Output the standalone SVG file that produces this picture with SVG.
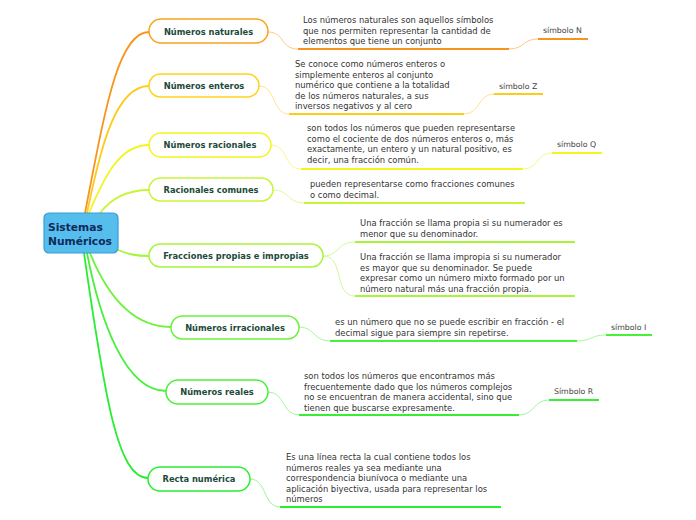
<svg xmlns="http://www.w3.org/2000/svg" width="696" height="520" viewBox="0 0 696 520">
<style>
.pill{fill:#ffffff;stroke-width:1.5}
.lbl{font-family:"DejaVu Sans",Verdana,sans-serif;font-weight:bold;font-size:8.3px;fill:#1c4a3a;text-anchor:middle}
.desc{font-family:"DejaVu Sans",Verdana,sans-serif;font-size:8.4px;fill:#333333}
.sym{font-family:"DejaVu Sans",Verdana,sans-serif;font-size:7.8px;fill:#444444}
.br{fill:none;stroke-width:1.8;stroke-linecap:round}
.cn{fill:none;stroke-width:1}
.ul{fill:none;stroke-width:2}
</style>
<rect width="696" height="520" fill="#ffffff"/>
<g id="connectors">
  <path class="br" stroke="#F7941D" d="M85 213 C105 110,118 32,149 32"/>
  <path class="br" stroke="#FDCB1C" d="M87 213 C100 150,115 86,149 86"/>
  <path class="br" stroke="#F2F51E" d="M89 213 C105 175,120 145,149 145"/>
  <path class="br" stroke="#C8F53A" d="M100 213 C110 200,125 190,149 190"/>
  <path class="br" stroke="#A6F53A" d="M118 250 C128 254,135 256,149 256"/>
  <path class="br" stroke="#6CF23A" d="M90 253 C105 290,130 327,171 327"/>
  <path class="br" stroke="#48F03A" d="M87 253 C100 320,125 391,166 391"/>
  <path class="br" stroke="#28EE30" d="M84 253 C105 400,118 478,148 478"/>
  <!-- node to description -->
  <path class="cn" stroke="#FBCB85" d="M268 32 C285 32,280 49,298 49"/>
  <path class="ul" stroke="#F7941D" d="M298 49 H509"/>
  <path class="cn" stroke="#FBCB85" d="M509 49 C525 49,522 39,538 39"/>
  <path class="ul" stroke="#F7941D" d="M538 39 H588"/>

  <path class="cn" stroke="#FEE48A" d="M259 86 C276 86,272 114,289 114"/>
  <path class="ul" stroke="#FDCB1C" d="M289 114 H464"/>
  <path class="cn" stroke="#FEE48A" d="M464 114 C480 114,478 94,494 94"/>
  <path class="ul" stroke="#FDCB1C" d="M494 94 H543"/>

  <path class="cn" stroke="#F7F98A" d="M271 145 C288 145,284 169,301 169"/>
  <path class="ul" stroke="#F2F51E" d="M301 169 H523"/>
  <path class="cn" stroke="#F7F98A" d="M523 169 C539 169,536 153,552 153"/>
  <path class="ul" stroke="#F2F51E" d="M552 153 H602"/>

  <path class="cn" stroke="#DFF99A" d="M273 190 C290 190,287 203,304 203"/>
  <path class="ul" stroke="#C8F53A" d="M304 203 H525"/>

  <path class="cn" stroke="#CFF99A" d="M323 256 C340 256,336 242,355 242"/>
  <path class="ul" stroke="#A6F53A" d="M355 242 H575"/>
  <path class="cn" stroke="#CFF99A" d="M323 256 C345 256,333 296,355 296"/>
  <path class="ul" stroke="#A6F53A" d="M355 296 H575"/>

  <path class="cn" stroke="#A8F7A0" d="M299 327 C315 327,313 341,330 341"/>
  <path class="ul" stroke="#48F03A" d="M330 341 H577"/>
  <path class="cn" stroke="#A8F7A0" d="M577 341 C592 341,590 335,606 335"/>
  <path class="ul" stroke="#48F03A" d="M606 335 H652"/>

  <path class="cn" stroke="#A0F79A" d="M268 392 C285 392,282 415,299 415"/>
  <path class="ul" stroke="#38EE35" d="M299 415 H519"/>
  <path class="cn" stroke="#A0F79A" d="M519 415 C535 415,533 400,549 400"/>
  <path class="ul" stroke="#38EE35" d="M549 400 H599"/>

  <path class="cn" stroke="#98F59A" d="M250 479 C267 479,263 507,280 507"/>
  <path class="ul" stroke="#28EE30" d="M280 507 H501"/>
</g>
<g id="central">
  <rect x="44" y="213" width="74" height="40" rx="5" fill="#56BEEC" stroke="#3A9BD5" stroke-width="1.2"/>
  <text x="48" y="231" font-family="'DejaVu Sans',Verdana,sans-serif" font-weight="bold" font-size="10.7" fill="#102a5c">Sistemas</text>
  <text x="48" y="244.5" font-family="'DejaVu Sans',Verdana,sans-serif" font-weight="bold" font-size="10.7" fill="#102a5c">Numéricos</text>
</g>
<g id="n-naturales">
  <rect class="pill" x="149" y="19" width="119" height="24" rx="12" stroke="#F9A31B"/>
  <text class="lbl" x="208.5" y="34.5">Números naturales</text>
  <text class="desc" x="303" y="23">Los números naturales son aquellos símbolos</text>
  <text class="desc" x="303" y="33.5">que nos permiten representar la cantidad de</text>
  <text class="desc" x="303" y="44">elementos que tiene un conjunto</text>
  <text class="sym" x="543" y="33">símbolo N</text>
</g>
<g id="n-enteros">
  <rect class="pill" x="149" y="74" width="110" height="23" rx="11.5" stroke="#FDD31C"/>
  <text class="lbl" x="204" y="88.5">Números enteros</text>
  <text class="desc" x="295" y="67">Se conoce como números enteros o</text>
  <text class="desc" x="295" y="77.5">simplemente enteros al conjunto</text>
  <text class="desc" x="295" y="88">numérico que contiene a la totalidad</text>
  <text class="desc" x="295" y="98.5">de los números naturales, a sus</text>
  <text class="desc" x="295" y="109">inversos negativos y al cero</text>
  <text class="sym" x="499" y="89">símbolo Z</text>
</g>
<g id="n-racionales">
  <rect class="pill" x="149" y="133" width="122" height="24" rx="12" stroke="#F2F51E"/>
  <text class="lbl" x="210" y="148">Números racionales</text>
  <text class="desc" x="307" y="131">son todos los números que pueden representarse</text>
  <text class="desc" x="307" y="141.5">como el cociente de dos números enteros o, más</text>
  <text class="desc" x="307" y="152">exactamente, un entero y un natural positivo, es</text>
  <text class="desc" x="307" y="162.5">decir, una fracción común.</text>
  <text class="sym" x="557" y="147">símbolo Q</text>
</g>
<g id="n-comunes">
  <rect class="pill" x="149" y="178" width="124" height="23" rx="11.5" stroke="#C8F53A"/>
  <text class="lbl" x="211" y="192.5">Racionales comunes</text>
  <text class="desc" x="310" y="187">pueden representarse como fracciones comunes</text>
  <text class="desc" x="310" y="197.5">o como decimal.</text>
</g>
<g id="n-fracciones">
  <rect class="pill" x="149" y="244" width="174" height="23" rx="11.5" stroke="#A6F53A"/>
  <text class="lbl" x="236" y="258.5">Fracciones propias e impropias</text>
  <text class="desc" x="360" y="226">Una fracción se llama propia si su numerador es</text>
  <text class="desc" x="360" y="236.5">menor que su denominador.</text>
  <text class="desc" x="360" y="260">Una fracción se llama impropia si su numerador</text>
  <text class="desc" x="360" y="270.5">es mayor que su denominador. Se puede</text>
  <text class="desc" x="360" y="281">expresar como un número mixto formado por un</text>
  <text class="desc" x="360" y="291.5">número natural más una fracción propia.</text>
</g>
<g id="n-irracionales">
  <rect class="pill" x="171" y="316" width="128" height="23" rx="11.5" stroke="#6CF23A"/>
  <text class="lbl" x="235" y="330.5">Números irracionales</text>
  <text class="desc" x="335" y="325">es un número que no se puede escribir en fracción - el</text>
  <text class="desc" x="335" y="335.5">decimal sigue para siempre sin repetirse.</text>
  <text class="sym" x="611" y="330">símbolo I</text>
</g>
<g id="n-reales">
  <rect class="pill" x="166" y="380" width="102" height="24" rx="12" stroke="#48F03A"/>
  <text class="lbl" x="217" y="395">Números reales</text>
  <text class="desc" x="304" y="379">son todos los números que encontramos más</text>
  <text class="desc" x="304" y="389.5">frecuentemente dado que los números complejos</text>
  <text class="desc" x="304" y="400">no se encuentran de manera accidental, sino que</text>
  <text class="desc" x="304" y="410.5">tienen que buscarse expresamente.</text>
  <text class="sym" x="554" y="394">Símbolo R</text>
</g>
<g id="n-recta">
  <rect class="pill" x="148" y="467" width="102" height="24" rx="12" stroke="#28EE30"/>
  <text class="lbl" x="199" y="482">Recta numérica</text>
  <text class="desc" x="286" y="460">Es una línea recta la cual contiene todos los</text>
  <text class="desc" x="286" y="470.5">números reales ya sea mediante una</text>
  <text class="desc" x="286" y="481">correspondencia biunívoca o mediante una</text>
  <text class="desc" x="286" y="491.5">aplicación biyectiva, usada para representar los</text>
  <text class="desc" x="286" y="502">números</text>
</g>
</svg>
